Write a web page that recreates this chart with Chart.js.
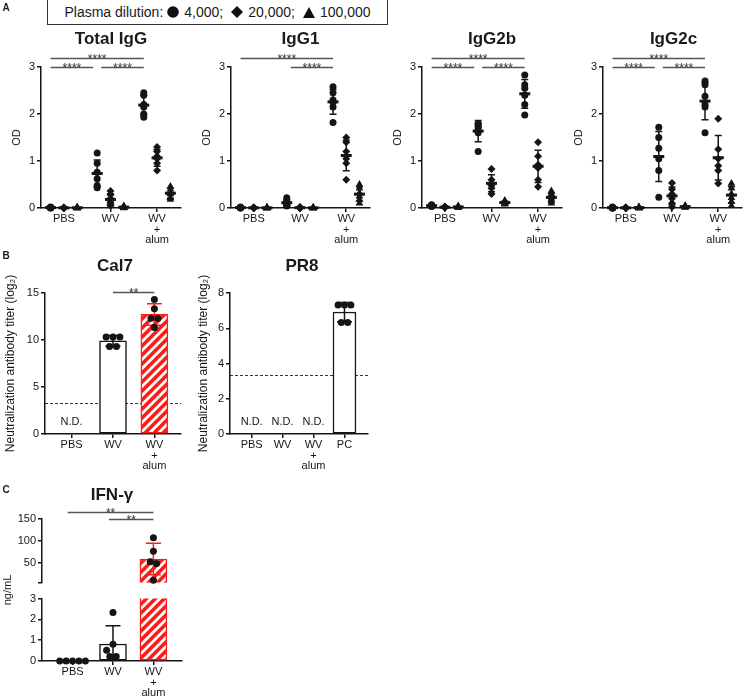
<!DOCTYPE html>
<html>
<head>
<meta charset="utf-8">
<title>Antibody and IFN-γ responses</title>
<script src="https://cdn.jsdelivr.net/npm/chart.js@4.4.1/dist/chart.umd.min.js"></script>
<style>
  html, body { margin: 0; padding: 0; background: #fff; overflow: hidden; }
  body { width: 746px; height: 699px; position: relative; font-family: Arial, "Liberation Sans", sans-serif; color: #1a1a1a; }
  canvas { position: absolute; }
  .txt { position: absolute; white-space: nowrap; line-height: 1; transform: translate(-50%, -50%); }
  .title { font-weight: bold; font-size: 17px; }
  .panel { font-weight: bold; font-size: 10px; }
  .ylab { font-size: 11px; transform: translate(-50%, -50%) rotate(-90deg); }
  #legend { position: absolute; left: 47px; top: -1px; width: 341px; height: 26px; box-sizing: border-box;
            border: 1px solid #333; font-size: 14px; display: flex; align-items: center; justify-content: center; }
  #legend svg { margin: 0 5px 0 8px; }
  #legend svg:first-of-type { margin-left: 4px; }
</style>
</head>
<body>
<div id="legend"></div>
<script>
// ---------- data ----------
const groups = ['PBS', 'WV', ['WV', '+', 'alum']];
const dilutions = ['4,000', '20,000', '100,000'];

// Panel A: OD per mouse, [group][dilution][mouse]
const totalIgG = [
  [[0.02, 0.01, 0.01, 0.01, 0.0, 0.0], [0.01, 0.01, 0.0, 0.0, 0.0, 0.0], [0.01, 0.01, 0.01, 0.0, 0.0, 0.0]],
  [[1.17, 0.95, 0.76, 0.62, 0.48, 0.43], [0.36, 0.28, 0.2, 0.12, 0.08, 0.05], [0.04, 0.02, 0.02, 0.01, 0.01, 0.0]],
  [[2.45, 2.4, 2.2, 2.15, 2.0, 1.93], [1.3, 1.2, 1.1, 1.05, 0.95, 0.8], [0.46, 0.4, 0.33, 0.3, 0.22, 0.18]]
];
const igg1 = [
  [[0.02, 0.01, 0.01, 0.01, 0.0, 0.0], [0.01, 0.01, 0.0, 0.0, 0.0, 0.0], [0.01, 0.01, 0.0, 0.0, 0.0, 0.0]],
  [[0.22, 0.15, 0.12, 0.08, 0.06, 0.04], [0.02, 0.01, 0.01, 0.0, 0.0, 0.0], [0.01, 0.01, 0.0, 0.0, 0.0, 0.0]],
  [[2.58, 2.45, 2.3, 2.25, 2.15, 1.82], [1.5, 1.4, 1.2, 1.05, 0.95, 0.6], [0.5, 0.42, 0.32, 0.25, 0.18, 0.1]]
];
const igg2b = [
  [[0.07, 0.06, 0.05, 0.05, 0.04, 0.03], [0.03, 0.02, 0.02, 0.01, 0.01, 0.01], [0.04, 0.03, 0.02, 0.02, 0.01, 0.01]],
  [[1.8, 1.78, 1.74, 1.7, 1.6, 1.2], [0.83, 0.6, 0.52, 0.48, 0.42, 0.3], [0.16, 0.14, 0.12, 0.1, 0.1, 0.08]],
  [[2.83, 2.62, 2.55, 2.4, 2.2, 1.98], [1.4, 1.1, 0.92, 0.85, 0.6, 0.45], [0.36, 0.3, 0.24, 0.2, 0.15, 0.1]]
];
const igg2c = [
  [[0.02, 0.01, 0.01, 0.0, 0.0, 0.0], [0.01, 0.01, 0.0, 0.0, 0.0, 0.0], [0.02, 0.01, 0.01, 0.0, 0.0, 0.0]],
  [[1.72, 1.5, 1.27, 1.05, 0.8, 0.23], [0.53, 0.4, 0.3, 0.2, 0.1, 0.02], [0.05, 0.04, 0.03, 0.02, 0.02, 0.01]],
  [[2.7, 2.62, 2.38, 2.2, 2.15, 1.6], [1.9, 1.25, 1.05, 0.9, 0.8, 0.52], [0.52, 0.42, 0.3, 0.22, 0.14, 0.05]]
];
// comparisons in panel A: [from group, to group, row]
const sigTotal = [[0, 2, 1], [0, 1, 0], [1, 2, 0]];
const sigIgG1 = [[0, 2, 1], [1, 2, 0]];
const sigIgG2b = [[0, 2, 1], [0, 1, 0], [1, 2, 0]];
const sigIgG2c = [[0, 2, 1], [0, 1, 0], [1, 2, 0]];

// Panel B: neutralization titer (log2) per mouse
const cal7 = [[], [10.32, 10.32, 10.32, 9.32, 9.32], [14.32, 13.32, 12.32, 12.32, 11.32]];
const pr8Groups = ['PBS', 'WV', ['WV', '+', 'alum'], 'PC'];
const pr8 = [[], [], [], [7.32, 7.32, 7.32, 6.32, 6.32]];
const detectionLimit = 3.32;
const sigCal7 = [[1, 2, 15.1, '**']];

// Panel C: IFN-γ (ng/mL) per mouse
const ifng = [[0, 0, 0, 0, 0], [2.33, 0.8, 0.52, 0.22, 0.22], [107, 76, 52, 48, 10]];
const sigIfng = [[-0.12, 2, 166, '**'], [0.9, 2, 150, '**']];

// ---------- styling ----------
const INK = '#151515';
const RED = '#ff1a1a';
const SHAPES = ['circle', 'rectRot', 'triangle'];
const RADII = [3.5, 4, 4.5];
const GAP = 3.5;                       // spacing between groups in panel A
const pos = (g, d) => g * GAP + d;

Chart.defaults.font.family = 'Arial, "Liberation Sans", sans-serif';
Chart.defaults.font.size = 11;
Chart.defaults.color = INK;
Chart.defaults.animation = false;

function stats(v) {
  const n = v.length, m = v.reduce((a, b) => a + b, 0) / n;
  const sd = n > 1 ? Math.sqrt(v.reduce((a, b) => a + (b - m) ** 2, 0) / (n - 1)) : 0;
  return { mean: m, sd };
}

// simple beeswarm: equal values side by side, others pushed aside on collision
function swarm(vals, pxY, pxX, d) {
  const off = vals.map(() => 0), used = vals.map(() => false), placed = [];
  vals.forEach((v, i) => {
    if (used[i]) return;
    const row = [];
    vals.forEach((w, j) => { if (!used[j] && Math.abs(w - v) * pxY < 3) { row.push(j); used[j] = true; } });
    if (row.length > 1) {
      row.forEach((j, k) => { off[j] = (k - (row.length - 1) / 2) * d; placed.push([off[j], vals[j] * pxY]); });
      return;
    }
    const py = v * pxY;
    for (const c of [0, -d, d, -2 * d, 2 * d]) {
      if (placed.every(([px, qy]) => Math.hypot(px - c, qy - py) >= d)) { off[i] = c; break; }
    }
    placed.push([off[i], py]);
  });
  return off.map(o => o / pxX);
}

function hatch() {
  const s = 9, c = document.createElement('canvas');
  c.width = c.height = s;
  const g = c.getContext('2d');
  g.fillStyle = '#fff'; g.fillRect(0, 0, s, s);
  g.strokeStyle = RED; g.lineWidth = 3.6;
  g.beginPath();
  [0, s, 2 * s].forEach(k => { g.moveTo(k + s, -s); g.lineTo(k - 2 * s, 2 * s); });
  g.stroke();
  return c.getContext('2d').createPattern(c, 'repeat');
}
const HATCH = hatch();

function place(left, top, w, h) {
  const c = document.createElement('canvas');
  c.width = w; c.height = h;
  c.style.left = left + 'px'; c.style.top = top + 'px';
  c.style.width = w + 'px'; c.style.height = h + 'px';
  document.body.appendChild(c);
  return c;
}

function text(str, cx, cy, cls) {
  const d = document.createElement('div');
  d.className = 'txt ' + cls;
  d.textContent = str;
  d.style.left = cx + 'px'; d.style.top = cy + 'px';
  document.body.appendChild(d);
  return d;
}

function axisStyle() {
  return {
    grid: { drawOnChartArea: false, offset: false, tickLength: 4, color: INK, lineWidth: 1.5 },
    border: { color: INK, width: 1.5 }
  };
}

function yScale(min, max, ticks, title, yw, fmt, titleSize) {
  return Object.assign(axisStyle(), {
    type: 'linear', min, max,
    afterBuildTicks: s => { s.ticks = ticks.map(v => ({ value: v })); },
    afterFit: s => { s.width = yw; },
    ticks: { padding: 2, callback: fmt || (v => v) },
    title: title ? { display: true, text: title, padding: 0, font: { size: titleSize || 11 } } : { display: false }
  });
}

function xScale(min, max, ticks, labels, xh, show) {
  return Object.assign(axisStyle(), {
    type: 'linear', min, max, offset: false, display: show,
    afterBuildTicks: s => { s.ticks = ticks.map(v => ({ value: v })); },
    afterFit: s => { s.height = xh; },
    ticks: { padding: 2, maxRotation: 0, autoSkip: false, font: { size: 11, lineHeight: 0.95 },
             callback: (v, i) => labels[i] }
  });
}

function drawErrors(chart, list) {
  const { ctx, scales: { x, y } } = chart;
  list.forEach(e => {
    const px = x.getPixelForValue(e.x);
    const hi = e.mean + e.sd, lo = e.mean - e.sd;
    const pTop = y.getPixelForValue(Math.min(hi, y.max));
    const pBot = y.getPixelForValue(Math.max(lo, y.min));
    ctx.save();
    ctx.strokeStyle = e.color; ctx.lineWidth = 1.5;
    ctx.beginPath();
    ctx.moveTo(px, pTop); ctx.lineTo(px, pBot);
    if (hi <= y.max) { ctx.moveTo(px - e.cap / 2, pTop); ctx.lineTo(px + e.cap / 2, pTop); }
    if (lo >= y.min) { ctx.moveTo(px - e.cap / 2, pBot); ctx.lineTo(px + e.cap / 2, pBot); }
    ctx.stroke();
    if (e.meanW) {
      const pm = y.getPixelForValue(e.mean);
      ctx.lineWidth = 3;
      ctx.beginPath(); ctx.moveTo(px - e.meanW / 2, pm); ctx.lineTo(px + e.meanW / 2, pm); ctx.stroke();
    }
    ctx.restore();
  });
}

function extras(o) {
  return {
    id: 'extras',
    beforeDatasetsDraw(chart) {
      if (o.limit == null) return;
      const { ctx, chartArea: a, scales: { y } } = chart;
      const py = Math.round(y.getPixelForValue(o.limit)) + 0.5;
      ctx.save();
      ctx.setLineDash([3, 2]); ctx.strokeStyle = '#333'; ctx.lineWidth = 1;
      ctx.beginPath(); ctx.moveTo(a.left, py); ctx.lineTo(a.right, py); ctx.stroke();
      ctx.restore();
    },
    afterDatasetDraw(chart, args) {
      if (args.meta.type === 'bar') drawErrors(chart, o.barErrors || []);
    },
    afterDatasetsDraw(chart) {
      const { ctx, chartArea: a, scales: { x, y } } = chart;
      drawErrors(chart, o.errors || []);
      ctx.save();
      (o.sig || []).forEach(([x1, x2, yv, label]) => {
        const py = Math.round(y.getPixelForValue(yv)) + 0.5;
        const p1 = x.getPixelForValue(x1), p2 = x.getPixelForValue(x2);
        ctx.strokeStyle = '#555'; ctx.lineWidth = 1.5;
        ctx.beginPath(); ctx.moveTo(p1, py); ctx.lineTo(p2, py); ctx.stroke();
        ctx.fillStyle = '#333'; ctx.font = '12px Arial, "Liberation Sans", sans-serif';
        ctx.textAlign = 'center'; ctx.textBaseline = 'alphabetic';
        ctx.fillText(label, (p1 + p2) / 2, py + 4.5);
      });
      (o.nd || []).forEach(i => {
        ctx.fillStyle = INK; ctx.font = '11px Arial, "Liberation Sans", sans-serif';
        ctx.textAlign = 'center'; ctx.textBaseline = 'middle';
        ctx.fillText('N.D.', x.getPixelForValue(i), a.bottom - 12);
      });
      ctx.restore();
    }
  };
}

// ---------- panel A: OD scatter charts ----------
const A_MIN = -0.72, A_MAX = 9.76;
function odChart(title, vals, sigSpec, axisX, rightX) {
  const yw = 31, pt = 24, xh = 46, pr = rightX >= 746 ? 0 : 2;
  const cv = place(axisX - yw, 67 - pt, yw + (rightX - axisX) + pr, pt + 141 + xh);
  const datasets = dilutions.map((name, d) => ({
    label: name,
    data: vals.flatMap((grp, g) => grp[d].map(v => ({ x: pos(g, d), y: v }))),
    pointStyle: SHAPES[d], pointRadius: RADII[d],
    pointBackgroundColor: INK, pointBorderWidth: 0, clip: false
  }));
  const errors = [];
  vals.forEach((grp, g) => grp.forEach((v, d) => {
    const s = stats(v);
    errors.push({ x: pos(g, d), mean: s.mean, sd: s.sd, color: INK, cap: 7, meanW: 11 });
  }));
  const sig = sigSpec.map(([g1, g2, row]) => [
    pos(g1, 0) + (g1 ? 0.3 : 0),
    pos(g2, 0) - (row === 0 && g2 === 1 ? 0.3 : 0),
    3 + row * 0.2, '****']);
  new Chart(cv, {
    type: 'scatter',
    data: { datasets },
    options: {
      responsive: false,
      layout: { padding: { top: pt, right: pr, left: 0, bottom: 0 } },
      scales: {
        x: xScale(A_MIN, A_MAX, groups.map((_, g) => pos(g, 1)), groups, xh, true),
        y: yScale(0, 3, [0, 1, 2, 3], 'OD', yw)
      },
      plugins: { legend: { display: false }, tooltip: { enabled: false } }
    },
    plugins: [extras({ errors, sig })]
  });
  text(title, (axisX + rightX) / 2 - 1, 38, 'title');
}

odChart('Total IgG', totalIgG, sigTotal, 41, 183);
odChart('IgG1', igg1, sigIgG1, 231, 372);
odChart('IgG2b', igg2b, sigIgG2b, 422, 564);
odChart('IgG2c', igg2c, sigIgG2c, 603, 746);

// ---------- bar + dot charts (panels B and C) ----------
function barPanel(o) {
  const pb = o.pb || 0;
  const cv = place(o.axis - o.yw, o.top - o.pt, o.yw + (o.right - o.axis) + 2, o.pt + (o.bottom - o.top) + o.xh + pb);
  const pxX = (o.right - o.axis) / (o.xmax - o.xmin);
  const pxY = (o.bottom - o.top) / (o.ymax - o.ymin);
  const bars = [], fills = [], edges = [], pts = [], barErrors = [], nd = [];
  o.values.forEach((vals, i) => {
    if (!vals.length) { if (o.nd) nd.push(i); return; }
    const alum = String(o.labels[i]).includes('alum');
    const s = stats(vals);
    if (s.mean > o.ymin) {
      bars.push({ x: i, y: s.mean });
      fills.push(alum ? HATCH : '#fff');
      edges.push(alum ? RED : INK);
    }
    if (s.sd > 0 && s.mean + s.sd > o.ymin && s.mean - s.sd < o.ymax)
      barErrors.push({ x: i, mean: s.mean, sd: s.sd, color: alum ? RED : INK, cap: 15 });
    const shown = vals.filter(v => v >= o.ymin && v <= o.ymax);
    const off = swarm(shown, pxY, pxX, o.dot || 6.5);
    shown.forEach((v, k) => pts.push({ x: i + off[k], y: v }));
  });
  new Chart(cv, {
    type: 'bar',
    data: {
      datasets: [
        { type: 'bar', data: bars, backgroundColor: fills, borderColor: edges, borderWidth: 1.5,
          borderSkipped: false, barThickness: o.barW, clip: 0, order: 2 },
        { type: 'scatter', data: pts, pointRadius: 3.5, pointBackgroundColor: INK,
          pointBorderWidth: 0, clip: false, order: 1 }
      ]
    },
    options: {
      responsive: false,
      layout: { padding: { top: o.pt, right: 2, left: 0, bottom: pb } },
      scales: {
        x: xScale(o.xmin, o.xmax, o.labels.map((_, i) => i), o.labels, o.xh, o.showX),
        y: yScale(o.ymin, o.ymax, o.yticks, o.ytitle, o.yw, o.fmt, 12)
      },
      plugins: { legend: { display: false }, tooltip: { enabled: false } }
    },
    plugins: [extras({ barErrors, sig: o.sig, nd, limit: o.limit })]
  });
}

// Cal7
barPanel({ axis: 45, right: 183, top: 293, bottom: 434, yw: 42, pt: 24, xh: 46,
  xmin: -0.643, xmax: 2.643, ymin: 0, ymax: 15, yticks: [0, 5, 10, 15],
  ytitle: 'Neutralization antibody titer (log₂)', labels: groups, values: cal7,
  barW: 27, dot: 7, showX: true, nd: true, limit: detectionLimit, sig: sigCal7 });
text('Cal7', 115, 265, 'title');

// PR8
barPanel({ axis: 230, right: 370, top: 293, bottom: 434, yw: 34, pt: 24, xh: 46,
  xmin: -0.70, xmax: 3.76, ymin: 0, ymax: 8, yticks: [0, 2, 4, 6, 8],
  ytitle: 'Neutralization antibody titer (log₂)', labels: pr8Groups, values: pr8,
  barW: 23, showX: true, nd: true, limit: detectionLimit });
text('PR8', 302, 265, 'title');

// IFN-γ, broken axis: upper segment
barPanel({ axis: 42, right: 184, top: 519, bottom: 583, yw: 40, pt: 24, pb: 8, xh: 0,
  xmin: -0.756, xmax: 2.707, ymin: 5, ymax: 150, yticks: [5, 50, 100, 150],
  fmt: v => (v === 5 ? '' : v), labels: groups, values: ifng,
  barW: 27, showX: false, sig: sigIfng });
// lower segment
barPanel({ axis: 42, right: 184, top: 598, bottom: 661, yw: 40, pt: 8, xh: 46,
  xmin: -0.756, xmax: 2.707, ymin: 0, ymax: 3, yticks: [0, 1, 2, 3],
  labels: groups, values: ifng, barW: 27, showX: true });
text('IFN-γ', 112, 494, 'title');
text('ng/mL', 7, 590, 'ylab');

// ---------- panel letters and legend ----------
text('A', 6, 8, 'panel');
text('B', 6, 256, 'panel');
text('C', 6, 490, 'panel');

const SVG = {
  circle: '<svg width="12" height="12"><circle cx="6" cy="6" r="5.8" fill="#111"/></svg>',
  rectRot: '<svg width="12" height="12"><polygon points="6,0 12,6 6,12 0,6" fill="#111"/></svg>',
  triangle: '<svg width="12" height="11"><polygon points="6,0 12,11 0,11" fill="#111"/></svg>'
};
document.getElementById('legend').innerHTML = '<span>Plasma dilution:</span>' +
  dilutions.map((d, i) => SVG[SHAPES[i]] + '<span>' + d + (i < dilutions.length - 1 ? ';' : '') + '</span>').join('');
</script>
</body>
</html>
